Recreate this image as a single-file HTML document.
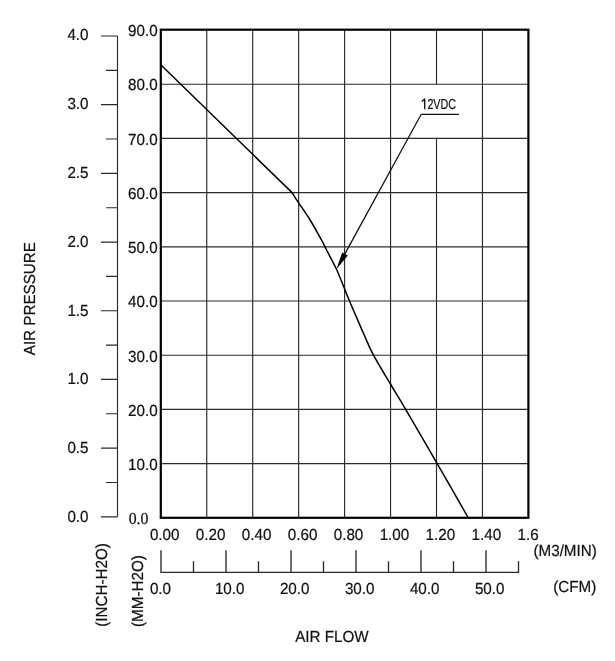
<!DOCTYPE html><html><head><meta charset="utf-8"><style>html,body{margin:0;padding:0;background:#fff;width:615px;height:661px;overflow:hidden}svg{display:block;will-change:transform}text{font-family:"Liberation Sans",sans-serif;fill:#111;stroke:#111;stroke-width:0.22px}.r{font-family:"Liberation Serif",serif}</style></head><body><svg width="615" height="661" viewBox="0 0 615 661" text-rendering="geometricPrecision"><path d="M206.75 30.0V517.80M252.70 30.0V517.80M298.65 30.0V517.80M344.60 30.0V517.80M390.55 30.0V517.80M436.50 30.0V84.20M436.50 138.40V517.80M482.45 30.0V517.80M160.8 84.20H528.40M160.8 138.40H528.40M160.8 192.60H528.40M160.8 246.80H528.40M160.8 301.00H528.40M160.8 355.20H528.40M160.8 409.40H528.40M160.8 463.60H528.40" stroke="#2a2a2a" stroke-width="1.15" fill="none"/><rect x="160.8" y="29.7" width="367.60" height="488.10" stroke="#000" stroke-width="2.2" fill="none"/><path d="M117.5 36.0V516.80M101 36.00H117.5M106 70.34H117.5M101 104.69H117.5M106 139.03H117.5M101 173.37H117.5M106 207.71H117.5M101 242.06H117.5M106 276.40H117.5M101 310.74H117.5M106 345.09H117.5M101 379.43H117.5M106 413.77H117.5M101 448.11H117.5M106 482.46H117.5M101 516.80H117.5" stroke="#2a2a2a" stroke-width="1.15" fill="none"/><text transform="translate(67.40 40.10) scale(0.95 1)" font-size="16">4.0</text><text transform="translate(67.40 108.95) scale(0.95 1)" font-size="16">3.0</text><text transform="translate(67.40 177.80) scale(0.95 1)" font-size="16">2.5</text><text transform="translate(67.40 246.65) scale(0.95 1)" font-size="16">2.0</text><text transform="translate(67.40 315.50) scale(0.95 1)" font-size="16">1.5</text><text transform="translate(67.40 384.35) scale(0.95 1)" font-size="16">1.0</text><text transform="translate(67.40 453.20) scale(0.95 1)" font-size="16">0.5</text><text transform="translate(67.40 522.05) scale(0.95 1)" font-size="16">0.0</text><text transform="translate(128.10 36.10) scale(0.95 1)" font-size="16">90.0</text><text transform="translate(128.10 90.34) scale(0.95 1)" font-size="16">80.0</text><text transform="translate(128.10 144.58) scale(0.95 1)" font-size="16">70.0</text><text transform="translate(128.10 198.82) scale(0.95 1)" font-size="16">60.0</text><text transform="translate(128.10 253.06) scale(0.95 1)" font-size="16">50.0</text><text transform="translate(128.10 307.30) scale(0.95 1)" font-size="16">40.0</text><text transform="translate(128.10 361.54) scale(0.95 1)" font-size="16">30.0</text><text transform="translate(128.10 415.78) scale(0.95 1)" font-size="16">20.0</text><text transform="translate(128.10 470.02) scale(0.95 1)" font-size="16">10.0</text><text transform="translate(128.70 523.55) scale(0.95 1)" font-size="16.6" class="r">0.0</text><text transform="translate(149.90 540.00) scale(0.95 1)" font-size="16">0.00</text><text transform="translate(195.85 540.00) scale(0.95 1)" font-size="16">0.20</text><text transform="translate(241.80 540.00) scale(0.95 1)" font-size="16">0.40</text><text transform="translate(287.75 540.00) scale(0.95 1)" font-size="16">0.60</text><text transform="translate(333.70 540.00) scale(0.95 1)" font-size="16">0.80</text><text transform="translate(379.65 540.00) scale(0.95 1)" font-size="16">1.00</text><text transform="translate(425.60 540.00) scale(0.95 1)" font-size="16">1.20</text><text transform="translate(471.55 540.00) scale(0.95 1)" font-size="16">1.40</text><text transform="translate(517.50 540.00) scale(0.95 1)" font-size="16">1.6</text><text transform="translate(533.45 555.95) scale(0.95 1)" font-size="16">(M3/MIN)</text><path d="M160.3 572.4H519.10M161.00 550.2V572.4M193.50 561.2V572.4M226.00 550.2V572.4M258.50 561.2V572.4M291.00 550.2V572.4M323.50 561.2V572.4M356.00 550.2V572.4M388.50 561.2V572.4M421.00 550.2V572.4M453.50 561.2V572.4M486.00 550.2V572.4M518.50 561.2V572.4" stroke="#2a2a2a" stroke-width="1.35" fill="none"/><text transform="translate(149.90 594.20) scale(0.95 1)" font-size="16">0.0</text><text transform="translate(214.90 594.20) scale(0.95 1)" font-size="16">10.0</text><text transform="translate(279.90 594.20) scale(0.95 1)" font-size="16">20.0</text><text transform="translate(344.90 594.20) scale(0.95 1)" font-size="16">30.0</text><text transform="translate(409.90 594.20) scale(0.95 1)" font-size="16">40.0</text><text transform="translate(474.90 594.20) scale(0.95 1)" font-size="16">50.0</text><text transform="translate(553.25 591.85) scale(0.95 1)" font-size="16">(CFM)</text><text transform="translate(295.20 641.95) scale(0.95 1)" font-size="16">AIR FLOW</text><text transform="translate(35.00 355.25) rotate(-90) scale(0.95 1)" font-size="16">AIR PRESSURE</text><text transform="translate(107.20 626.70) rotate(-90) scale(0.95 1)" font-size="16">(INCH-H2O)</text><text transform="translate(143.40 626.95) rotate(-90) scale(0.95 1)" font-size="16">(MM-H2O)</text><path d="M161 65.0 L291.8 192.4 C292.93 194.13 295.60 198.28 298.60 202.80 C301.60 207.32 305.98 213.30 309.80 219.50 C313.62 225.70 318.70 234.92 321.50 240.00 C324.30 245.08 324.08 245.08 326.60 250.00 C329.12 254.92 333.60 263.00 336.60 269.50 C339.60 276.00 342.43 283.70 344.60 289.00 C346.77 294.30 347.78 296.97 349.60 301.30 C351.42 305.63 353.10 309.47 355.50 315.00 C357.90 320.53 361.00 327.80 364.00 334.50 C367.00 341.20 369.05 346.87 373.50 355.20 C377.95 363.53 385.32 375.43 390.70 384.50 C396.08 393.57 398.10 396.50 405.80 409.60 C413.50 422.70 426.52 445.12 436.90 463.10 C447.28 481.08 462.90 508.43 468.10 517.50" stroke="#000" stroke-width="1.5" fill="none" stroke-linejoin="round"/><text transform="translate(427.40 109.25) scale(0.74 1)" font-size="14.5">2VDC</text><path d="M421.8 101.6L424.7 99.0V109.2" stroke="#111" stroke-width="1.35" fill="none" stroke-linejoin="round"/><path d="M459 114.3H421.2L344.6 254.4" stroke="#111" stroke-width="1.3" fill="none"/><path d="M336.4 269.3L342.2 252.4L347.8 255.5Z" fill="#000"/></svg></body></html>
